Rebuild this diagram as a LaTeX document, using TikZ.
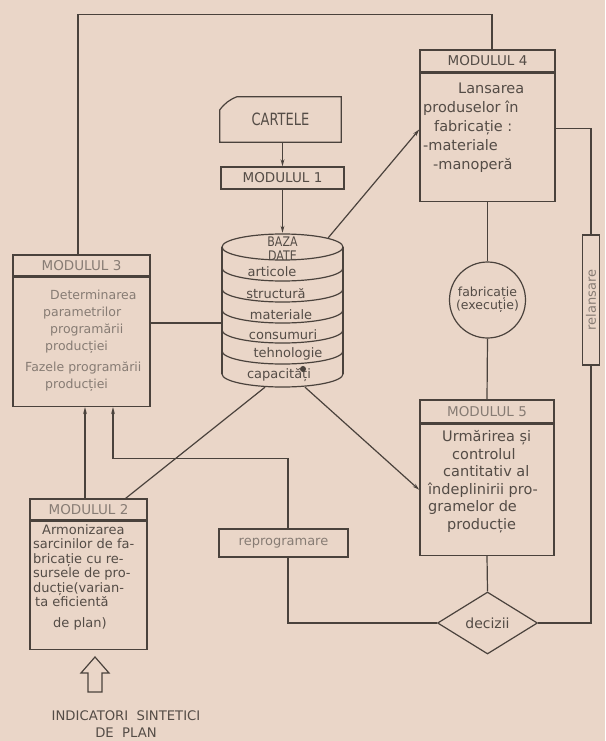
\documentclass[tikz,border=0pt]{standalone}
\usepackage{fontspec}
\setmainfont{DejaVu Sans}
\newfontfamily\nf{DejaVu Sans}
\usetikzlibrary{arrows.meta,shapes.geometric}
\definecolor{paper}{RGB}{234,214,200}
\definecolor{ink}{RGB}{74,66,60}
\definecolor{txt}{RGB}{84,76,70}
\definecolor{faint}{RGB}{135,124,116}
\begin{document}
\begin{tikzpicture}[x=1pt,y=-1pt,
  box/.style={draw=ink, line width=1.4pt, inner sep=0pt},
  hd/.style={box, font=\nf\fontsize{13.5}{13.5}\selectfont, text=txt},
  btext/.style={inner sep=0pt, align=left, anchor=west, text=txt, font=\nf\fontsize{14.5}{19}\selectfont},
  ln/.style={draw=ink, line width=1.2pt},
  arr/.style={ln, -{Stealth[length=7pt,width=3.8pt]}},
  dbt/.style={inner sep=0pt, text=txt, font=\nf\fontsize{13}{13}\selectfont},
]
\fill[paper] (0,0) rectangle (605,741);
\useasboundingbox (0,0) rectangle (605,741);

% ---------- CARTELE ----------
\node[inner sep=0pt, minimum width=121pt, minimum height=45pt, text=txt,
      font=\nf\fontsize{13}{13}\selectfont] (cart) at (280.5,119.5) {\scalebox{1}[1.3]{CARTELE}};
\draw[ln] (cart.south west) -- (cart.south east) -- (cart.north east)
  -- ([xshift=17pt]cart.north west) to[bend right=15] ([yshift=-13pt]cart.north west) -- cycle;

% ---------- MODULUL 1 ----------
\node[box, minimum width=123pt, minimum height=22pt, text=txt,
      font=\nf\fontsize{13.5}{13.5}\selectfont] (m1) at (282.5,178) {MODULUL 1};

% ---------- BAZA DATE (cylinder) ----------
\node[inner sep=0pt, minimum width=121pt, minimum height=154pt] (db) at (282.5,310) {};
\begin{scope}[ink, line width=1.2pt]
  \draw (282.5,247) ellipse[x radius=60.5pt, y radius=13pt];
  \draw (222,247) -- (222,374);
  \draw (343,247) -- (343,374);
  \foreach \yc in {268,289,310,330,351,374}
    \draw (222,\yc) arc[start angle=180, end angle=360, x radius=60.5pt, y radius=13pt];
\end{scope}
\node[inner sep=0pt, align=center, text=txt, font=\nf\fontsize{11}{14}\selectfont] (dbh) at (282.5,248.5) {\scalebox{1}[1.2]{BAZA}\\\scalebox{1}[1.2]{DATE}};
\node[dbt] (d1) at (272,272) {articole};
\node[dbt] (d2) at (276,294) {structură};
\node[dbt] (d3) at (281,315) {materiale};
\node[dbt] (d4) at (283,335) {consumuri};
\node[dbt] (d5) at (288,354) {tehnologie};
\node[dbt] (d6) at (279,375) {capacități};
\fill[ink] (303,369) circle[radius=3pt];

% ---------- MODULUL 4 ----------
\node[hd, minimum width=135pt, minimum height=22pt] (m4h) at (487.5,61) {MODULUL 4};
\node[box, minimum width=135pt, minimum height=128pt, anchor=north] (m4) at (m4h.south) {};
\node[btext] (m4t) at (423,128) {\hspace*{35pt}Lansarea\\produselor în\\\hspace*{11pt}fabricație :\\-materiale\\\hspace*{10pt}-manoperă};

% ---------- fabricatie circle ----------
\node[draw=ink, line width=1.2pt, circle, minimum size=76pt, inner sep=0pt, align=center,
      text=txt, font=\nf\fontsize{12.5}{13}\selectfont] (fab) at (487.5,300) {fabricație\\(execuție)};

% ---------- MODULUL 5 ----------
\node[hd, minimum width=134pt, minimum height=23pt, text=faint] (m5h) at (487,411.5) {MODULUL 5};
\node[box, minimum width=134pt, minimum height=131pt, anchor=north] (m5) at (m5h.south) {};
\node[btext, font=\nf\fontsize{14.5}{17.5}\selectfont] (m5t) at (428,481.5) {\hspace*{14pt}Urmărirea și\\\hspace*{24pt}controlul\\\hspace*{15pt}cantitativ al\\îndeplinirii pro-\\gramelor de\\\hspace*{19pt}producție};

% ---------- decizii ----------
\node[draw=ink, line width=1.2pt, diamond, minimum width=100pt, minimum height=62pt, inner sep=0pt,
      text=txt, font=\nf\fontsize{14}{14}\selectfont] (dec) at (487.5,623) {decizii};

% ---------- relansare ----------
\node[box, minimum width=17pt, minimum height=130pt] (rel) at (591,300) {};
\node[rotate=90, inner sep=0pt, text=faint, font=\nf\fontsize{13}{13}\selectfont] (relt) at (rel.center) {relansare};

% ---------- MODULUL 3 ----------
\node[hd, minimum width=137pt, minimum height=21pt, text=faint] (m3h) at (81.5,265.5) {MODULUL 3};
\node[box, minimum width=137pt, minimum height=129pt, anchor=north] (m3) at (m3h.south) {};
\node[btext, text=faint, font=\nf\fontsize{12.5}{17}\selectfont] (m3t) at (25,341) {\hspace*{25pt}Determinarea\\\hspace*{18pt}parametrilor\\\hspace*{25pt}programării\\\hspace*{20pt}producției\\[4pt]Fazele programării\\\hspace*{20pt}producției};

% ---------- MODULUL 2 ----------
\node[hd, minimum width=117pt, minimum height=21pt, text=faint] (m2h) at (88.5,509.5) {MODULUL 2};
\node[box, minimum width=117pt, minimum height=128pt, anchor=north] (m2) at (m2h.south) {};
\node[btext, font=\nf\fontsize{13}{14.5}\selectfont] (m2t) at (33,577)
  {\hspace*{9pt}Armonizarea\\sarcinilor de fa-\\bricație cu re-\\sursele de pro-\\ducție(varian-\\\hspace*{2pt}ta eficientă\\[6pt]\hspace*{20pt}de plan)};

% ---------- reprogramare ----------
\node[box, line width=1.6pt, minimum width=129pt, minimum height=28pt, text=faint,
      font=\nf\fontsize{13}{13}\selectfont] (rep) at (283.5,543) {reprogramare};

% ---------- INDICATORI ----------
\draw[ln, fill=paper] (95,657) -- (109,673) -- (102,673) -- (102,692) -- (88,692) -- (88,673) -- (81,673) -- cycle;
\node[inner sep=0pt, align=center, text=txt, font=\nf\fontsize{13.2}{17}\selectfont] (ind) at (126,724) {INDICATORI\ \ SINTETICI\\DE\ \ PLAN};

% ---------- connectors ----------
\draw[arr] (m1.north |- cart.south) -- (m1.north);
\draw[arr] (m1.south) -- (db.north);
\draw[arr] ([xshift=-15pt,yshift=-5pt]db.north east) -- ([yshift=8pt]m4.west);
\draw[arr] ([xshift=22.5pt]db.south) -- (m5.west);
\draw[ln] ([xshift=-17.5pt]db.south) -- ([xshift=-22pt]m2h.north east);
\draw[ln] ([yshift=-13pt]db.west) -- ([yshift=-13pt]db.west -| m3.east);
\draw[ln] ([xshift=-3.5pt]m3h.north) -- ++(0,-240) -| ([xshift=4.5pt]m4h.north);
\draw[ln] (m4.south) -- (fab.north);
\draw[ln] (fab.south) -- (m5h.north);
\draw[ln] (m5.south) -- (dec.north);
\draw[ln] ([yshift=9pt]m4.east) -| (rel.north);
\draw[ln] (rel.south) |- (dec.east);
\draw[ln] (dec.west) -| ([xshift=4.5pt]rep.south);
\draw[arr] ([xshift=4.5pt]rep.north) -- ++(0,-70) -| ([xshift=31.5pt]m3.south);
\draw[arr] ([xshift=-3.5pt]m2h.north) -- ([xshift=3.5pt]m3.south);
\end{tikzpicture}
\end{document}
